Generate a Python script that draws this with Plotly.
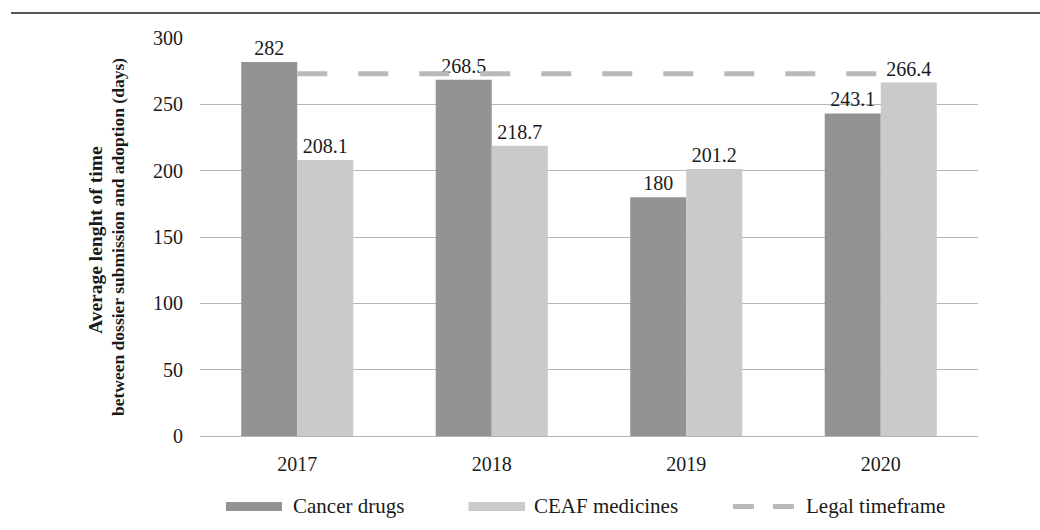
import plotly.graph_objects as go

years = ["2017", "2018", "2019", "2020"]
cancer_drugs = [282, 268.5, 180, 243.1]
ceaf_medicines = [208.1, 218.7, 201.2, 266.4]
legal_timeframe = [273, 273, 273, 273]
y_ticks = [0, 50, 100, 150, 200, 250, 300]

DARK = "#939393"
LIGHT = "#cacaca"
DASH = "#b9b9b9"
GRID = "#b5b5b5"
TXT = "#1a1a1a"
FONT = "Liberation Serif"

W, H = 1040, 530
L, R, T, B = 200, 62, 38, 94
PW, PH = W - L - R, H - T - B


def fx(px):
    return (px - L) / PW


def fy(py):
    return (H - B - py) / PH


fig = go.Figure()
fig.add_trace(go.Scatter(
    x=years, y=legal_timeframe, mode="lines", name="Legal timeframe",
    line=dict(color=DASH, width=5, dash="30px,31px"), hoverinfo="skip"))
fig.add_trace(go.Bar(
    x=years, y=cancer_drugs, name="Cancer drugs", marker=dict(color=DARK, line=dict(width=0)),
    text=[f"{v:g}" for v in cancer_drugs], textposition="outside", cliponaxis=False,
    textfont=dict(family=FONT, size=20, color=TXT)))
fig.add_trace(go.Bar(
    x=years, y=ceaf_medicines, name="CEAF medicines", marker=dict(color=LIGHT, line=dict(width=0)),
    text=[f"{v:g}" for v in ceaf_medicines], textposition="outside", cliponaxis=False,
    textfont=dict(family=FONT, size=20, color=TXT)))

shapes = [
    # top rule
    dict(type="line", xref="paper", yref="paper", x0=fx(11), x1=fx(1040), y0=fy(13), y1=fy(13),
         line=dict(color="#555555", width=2)),
    # legend swatches
    dict(type="rect", xref="paper", yref="paper", x0=fx(226), x1=fx(282), y0=fy(511), y1=fy(502),
         fillcolor=DARK, line=dict(width=0)),
    dict(type="rect", xref="paper", yref="paper", x0=fx(468.5), x1=fx(525), y0=fy(511), y1=fy(502),
         fillcolor=LIGHT, line=dict(width=0)),
    dict(type="line", xref="paper", yref="paper", x0=fx(733), x1=fx(754), y0=fy(506.5), y1=fy(506.5),
         line=dict(color=DASH, width=5)),
    dict(type="line", xref="paper", yref="paper", x0=fx(773), x1=fx(794), y0=fy(506.5), y1=fy(506.5),
         line=dict(color=DASH, width=5)),
]

annotations = [
    dict(text="Cancer drugs", x=fx(291), y=fy(506), xref="paper", yref="paper",
         xanchor="left", yanchor="middle", showarrow=False,
         font=dict(family=FONT, size=21, color=TXT)),
    dict(text="CEAF medicines", x=fx(532), y=fy(506), xref="paper", yref="paper",
         xanchor="left", yanchor="middle", showarrow=False,
         font=dict(family=FONT, size=21, color=TXT)),
    dict(text="Legal timeframe", x=fx(804), y=fy(506), xref="paper", yref="paper",
         xanchor="left", yanchor="middle", showarrow=False,
         font=dict(family=FONT, size=21, color=TXT)),
    dict(text="<b>Average lenght of time</b>",
         x=fx(95), y=fy(240), xref="paper", yref="paper", xanchor="center", yanchor="middle",
         textangle=-90, showarrow=False,
         font=dict(family=FONT, size=19.5, color=TXT)),
    dict(text="<b>between dossier submission and adoption (days)</b>",
         x=fx(118), y=fy(237), xref="paper", yref="paper", xanchor="center", yanchor="middle",
         textangle=-90, showarrow=False,
         font=dict(family=FONT, size=17.5, color=TXT)),
]

fig.update_layout(
    width=W, height=H,
    margin=dict(l=L, r=R, t=T, b=B),
    paper_bgcolor="white", plot_bgcolor="white",
    barmode="group", bargap=0.424, bargroupgap=0,
    showlegend=False,
    font=dict(family=FONT, color=TXT),
    shapes=shapes, annotations=annotations,
    xaxis=dict(type="category", showgrid=False, showline=False, ticks="",
               tickfont=dict(family=FONT, size=20, color=TXT), ticklabelstandoff=14),
    yaxis=dict(range=[0, 300], tickvals=y_ticks, showgrid=True, gridcolor=GRID, gridwidth=1,
               zeroline=True, zerolinecolor=GRID, zerolinewidth=1, showline=False, ticks="",
               tickfont=dict(family=FONT, size=20, color=TXT), ticklabelstandoff=16),
)

fig.write_html("out.html")
